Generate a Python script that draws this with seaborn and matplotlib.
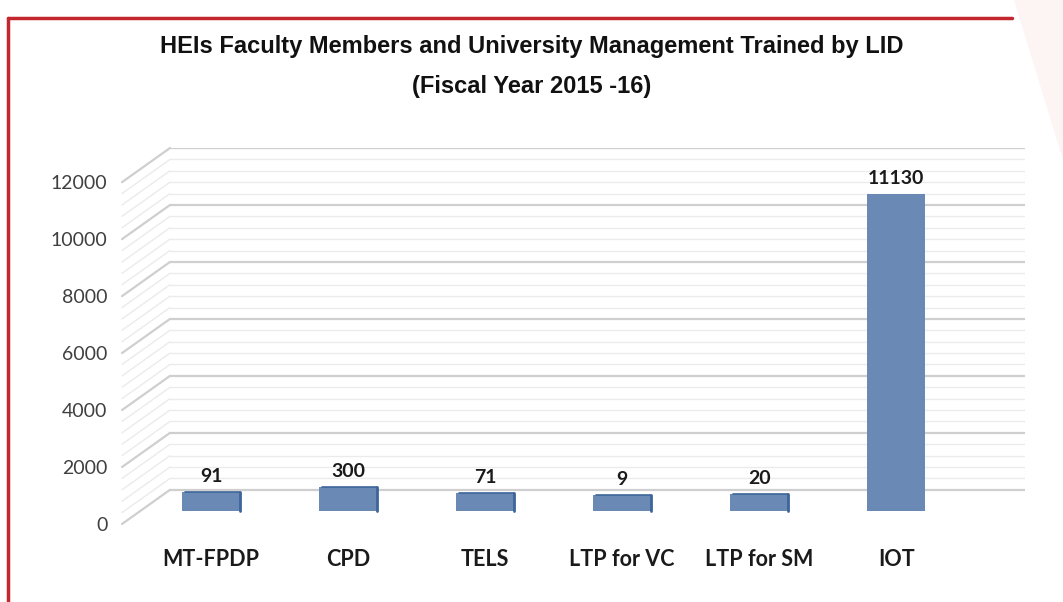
import matplotlib.pyplot as plt
import matplotlib.transforms as mtrans
from matplotlib.patches import Polygon
from matplotlib.lines import Line2D
import seaborn as sns
import pandas as pd

# data
programs = ["MT-FPDP", "CPD", "TELS", "LTP for VC", "LTP for SM", "IOT"]
trained = [91, 300, 71, 9, 20, 11130]
y_ticks = [0, 2000, 4000, 6000, 8000, 10000, 12000]

bar_color = "#6a8ab5"
edge_color = "#3d6599"

sns.set_theme(style="white")
plt.rcParams["font.family"] = ["Lato", "DejaVu Sans"]

W, H = 1063, 602
fig = plt.figure(figsize=(W / 100, H / 100), dpi=100)
fig.patch.set_facecolor("white")

# axes placed in pixels so the fake 3D wall lines up
left_px, right_px, top_px, bottom_px = 170, 1025, 148, 524
ax = fig.add_axes([left_px / W, 1 - bottom_px / H,
                   (right_px - left_px) / W, (bottom_px - top_px) / H])

wall_off = 740    # back wall sits above the floor (data units)
label_off = -460  # axis labels sit below the floor
ymin, ymax = label_off, 12000 + wall_off
px_per_unit = (bottom_px - top_px) / (ymax - ymin)

df = pd.DataFrame({"program": programs, "trained": trained})

# back wall grid + perspective lines on the side wall
blend = mtrans.blended_transform_factory(ax.transAxes, ax.transData)
side_x = (122 - left_px) / (right_px - left_px)
for v in range(0, 12001, 400):
    major = v % 2000 == 0
    col = "#cfcfcf" if major else "#ebebeb"
    lw = 1.6 if major else 1.0
    ax.axhline(v + wall_off, color=col, lw=lw, zorder=0)
    ax.add_line(Line2D([side_x, 0], [v + label_off, v + wall_off], transform=blend,
                       color=col, lw=lw, clip_on=False, zorder=0))

sns.barplot(data=df, x="program", y="trained", color=bar_color, width=0.42,
            saturation=1, linewidth=0, ax=ax, zorder=3)

# top face of the 3D columns: visible on short bars only
vmax = max(trained)
caps = [16 * (1 - v / vmax) / px_per_unit for v in trained]
ax.bar(range(len(programs)), caps, bottom=trained, width=0.42,
       color=bar_color, linewidth=0, zorder=3)
for i, (v, c) in enumerate(zip(trained, caps)):
    if c * px_per_unit > 1:
        ax.plot([i + 0.21, i + 0.21], [0, v + c], color=edge_color, lw=2, zorder=4)
        ax.plot([i - 0.19, i + 0.21], [v + c, v + c], color=edge_color, lw=1.2, zorder=4)
    ax.annotate(str(v), (i, v + c), xytext=(0, 5), textcoords="offset points",
                ha="center", va="bottom", fontsize=14, fontweight="bold",
                color="#1a1a1a")

ax.set_ylim(ymin, ymax)
ax.set_xlim(-0.30, 5.94)
ax.set_yticks([t + label_off for t in y_ticks])
ax.set_yticklabels([str(t) for t in y_ticks])
ax.tick_params(axis="y", length=0, pad=45, labelsize=14, labelcolor="#404040")
ax.tick_params(axis="x", length=0, pad=18, labelsize=15.5)
for lab in ax.get_xticklabels():
    lab.set_fontweight("bold")
    lab.set_color("#1a1a1a")
ax.set_xlabel("")
ax.set_ylabel("")
sns.despine(ax=ax, left=True, bottom=True)
ax.set_facecolor("none")

fig.text(0.5, 1 - 47 / H, "HEIs Faculty Members and University Management Trained by LID",
         ha="center", va="center", fontsize=17, fontweight="bold",
         family="Liberation Sans", color="#111111")
fig.text(0.5, 1 - 87 / H, "(Fiscal Year 2015 -16)",
         ha="center", va="center", fontsize=17, fontweight="bold",
         family="Liberation Sans", color="#111111")

# slide frame: red border and pink corner
fig.add_artist(Polygon([[1014 / W, 1], [1, 1], [1, 1 - 160 / H]], closed=True,
                       transform=fig.transFigure, facecolor="#fdf4f4",
                       edgecolor="none", zorder=0))
fig.add_artist(Line2D([8 / W, 8 / W], [0, 1 - 18 / H], transform=fig.transFigure,
                      color="#c4262e", lw=2.5))
fig.add_artist(Line2D([8 / W, 1012 / W], [1 - 18 / H, 1 - 18 / H],
                      transform=fig.transFigure, color="#c4262e", lw=2.5))

fig.savefig("out.png", dpi=100)
